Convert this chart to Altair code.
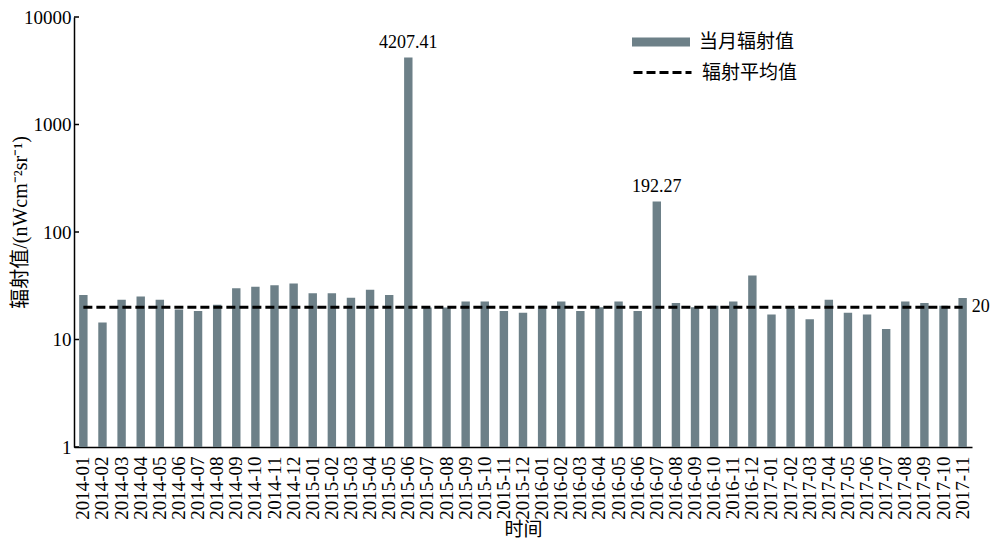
import altair as alt
import pandas as pd

months = [
    "2014-01", "2014-02", "2014-03", "2014-04", "2014-05", "2014-06", "2014-07", "2014-08",
    "2014-09", "2014-10", "2014-11", "2014-12", "2015-01", "2015-02", "2015-03", "2015-04",
    "2015-05", "2015-06", "2015-07", "2015-08", "2015-09", "2015-10", "2015-11", "2015-12",
    "2016-01", "2016-02", "2016-03", "2016-04", "2016-05", "2016-06", "2016-07", "2016-08",
    "2016-09", "2016-10", "2016-11", "2016-12", "2017-01", "2017-02", "2017-03", "2017-04",
    "2017-05", "2017-06", "2017-07", "2017-08", "2017-09", "2017-10", "2017-11",
]
values = [
    26.0, 14.4, 23.4, 25.1, 23.4, 19.0, 18.4, 21.1,
    29.9, 30.9, 32.0, 33.1, 26.9, 26.9, 24.4, 29.1,
    26.0, 4207.41, 19.8, 19.8, 22.6, 22.6, 18.4, 17.7,
    20.6, 22.6, 18.4, 20.0, 22.6, 18.4, 192.27, 21.8,
    20.0, 20.6, 22.6, 39.4, 17.1, 19.6, 15.4, 23.4,
    17.7, 17.1, 12.5, 22.6, 21.8, 20.6, 24.3,
]
mean_value = 20
labelled_months = ["2015-06", "2016-07"]
y_ticks = [1, 10, 100, 1000, 10000]
series_bar = "当月辐射值"
series_mean = "辐射平均值"

df = pd.DataFrame({"month": months, "value": values})
df["label"] = [f"{v:.2f}" if m in labelled_months else "" for m, v in zip(months, values)]
df["series"] = series_bar
df["mean"] = mean_value
df["mean_series"] = series_mean
df["base"] = 1
ticks_df = pd.DataFrame({"tick": y_ticks})

FONT = "'Liberation Serif', 'Times New Roman', 'Noto Sans CJK SC'"
BAR_COLOR = "#6d8088"

x_enc = alt.X(
    "month:N",
    sort=months,
    scale=alt.Scale(paddingInner=0.56, paddingOuter=0.27),
    axis=alt.Axis(
        title="时间", labelAngle=-90, labelFont=FONT, labelFontSize=19, labelPadding=9,
        ticks=False, tickSize=0, titleFont=FONT, titleFontSize=19, titleFontWeight="normal",
        titleY=82, titleBaseline="middle",
    ),
)
y_scale = alt.Scale(type="log", domain=[1, 10000])
y_axis = alt.Axis(
    values=y_ticks, format="d", title="辐射值/(nWcm⁻²sr⁻¹)", labelFont=FONT,
    labelFontSize=19, labelPadding=3, ticks=False, tickSize=0, grid=False,
    titleFont=FONT, titleFontSize=20, titleFontWeight="normal",
    titleX=-54, titleY=205, titleBaseline="middle",
)

base = alt.Chart(df)

bars = base.mark_bar().encode(
    x=x_enc,
    y=alt.Y("value:Q", scale=y_scale, axis=y_axis),
    y2=alt.Y2("base:Q"),
    color=alt.Color(
        "series:N",
        scale=alt.Scale(domain=[series_bar], range=[BAR_COLOR]),
        legend=alt.Legend(
            title=None, orient="none", legendX=558, legendY=-4, padding=0,
            symbolType="M-1,-0.155L1,-0.155L1,0.155L-1,0.155Z", symbolSize=3364,
            symbolStrokeWidth=0, symbolOpacity=1,
            labelFont=FONT, labelFontSize=19, labelOffset=9, labelColor="black",
        ),
    ),
)

mean_line = base.mark_line(color="black", strokeWidth=3).encode(
    x=alt.X("month:N", sort=months),
    y=alt.Y("mean:Q", scale=y_scale, axis=y_axis),
    strokeDash=alt.StrokeDash(
        "mean_series:N",
        scale=alt.Scale(domain=[series_mean], range=[[9, 4]]),
        legend=alt.Legend(
            title=None, orient="none", legendX=558, legendY=25, padding=0,
            symbolType="stroke", symbolSize=3364, symbolStrokeWidth=3,
            symbolStrokeColor="black",
            labelFont=FONT, labelFontSize=19, labelOffset=9, labelColor="black",
        ),
    ),
)

peak_labels = base.mark_text(baseline="bottom", dy=-5, font=FONT, fontSize=18, color="black").encode(
    x=alt.X("month:N", sort=months),
    y=alt.Y("value:Q", scale=y_scale),
    text="label:N",
)

mean_label = base.transform_filter(
    alt.datum.month == months[-1]
).mark_text(align="left", dx=9, font=FONT, fontSize=18, color="black").encode(
    x=alt.X("month:N", sort=months),
    y=alt.Y("mean:Q", scale=y_scale),
    text=alt.Text("mean:Q", format="d"),
)

y_tick_marks = alt.Chart(ticks_df).mark_rule(color="black", strokeWidth=1.5).encode(
    y=alt.Y("tick:Q", scale=y_scale),
    x=alt.value(0),
    x2=alt.value(5),
)

chart = alt.layer(bars, mean_line, peak_labels, mean_label, y_tick_marks).properties(
    width=898,
    height=430,
    autosize=alt.AutoSizeParams(type="none"),
    padding={"left": 66, "top": 9, "right": 20, "bottom": 91},
).configure_view(stroke=None).configure_axis(
    domainColor="black", domainWidth=1.5, labelColor="black", titleColor="black",
)

chart.save("out.html", embed_options={"renderer": "svg", "actions": False})
